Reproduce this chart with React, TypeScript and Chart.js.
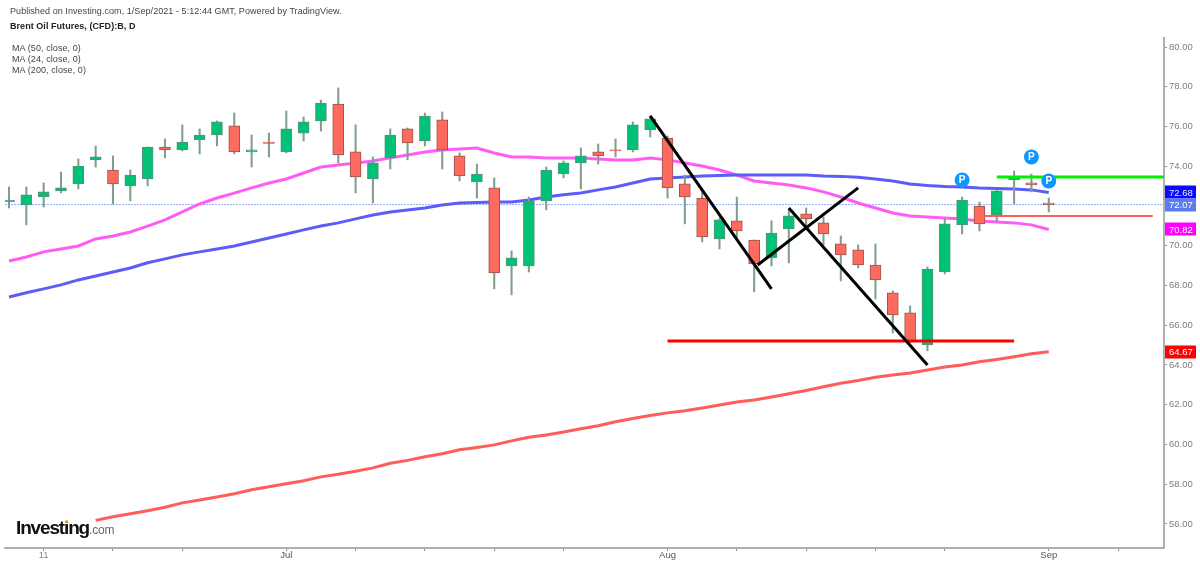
import React, { useEffect, useRef } from "react";
import { Chart, registerables } from "chart.js";

Chart.register(...registerables);

const headerLine = "Published on Investing.com, 1/Sep/2021 - 5:12:44 GMT, Powered by TradingView.";
const symbolLine = "Brent Oil Futures, (CFD):B, D";
const studyLines = ["MA (50, close, 0)", "MA (24, close, 0)", "MA (200, close, 0)"];

const opens = [72.2,72.05,72.45,72.76,73.11,74.32,73.81,73.01,73.36,74.97,74.82,75.32,75.57,76.03,74.72,75.22,74.72,75.67,76.28,77.13,74.72,73.36,74.42,75.88,75.27,76.33,74.52,73.21,72.91,68.98,68.98,72.25,73.61,74.17,74.72,74.82,74.82,75.83,75.42,73.11,72.4,70.34,71.25,70.29,69.39,70.85,71.6,71.15,70.09,69.79,69.03,67.63,66.62,65.01,68.68,71.05,72.0,71.55,73.31,73.16,72.15];
const highs = [72.96,72.96,73.16,73.71,74.37,75.02,74.52,73.81,74.97,75.37,76.08,75.88,76.28,76.68,75.57,75.67,76.78,76.48,77.33,77.94,76.08,74.47,75.88,75.93,76.68,76.73,74.67,74.11,73.41,69.74,72.45,73.96,74.27,74.92,75.12,75.37,76.23,76.53,75.52,73.56,72.71,71.4,72.45,70.29,71.25,71.8,71.9,71.45,70.49,70.04,70.09,67.73,66.97,68.93,71.35,72.45,72.2,72.81,73.76,73.61,72.4];
const lows = [71.9,71.05,71.95,72.66,72.86,73.96,72.1,72.25,73.01,74.42,74.77,74.62,75.02,74.62,73.96,74.47,74.67,75.27,75.77,74.17,72.66,72.15,73.86,74.32,75.02,73.86,73.26,72.4,67.83,67.53,68.68,71.8,73.41,72.86,74.11,74.47,74.72,75.47,72.4,71.1,70.19,69.84,70.39,67.68,68.98,69.14,70.8,70.04,68.23,68.88,67.32,65.61,65.11,64.71,68.58,70.59,70.74,71.2,72.1,72.71,71.7];
const closes = [72.3,72.56,72.71,72.91,74.01,74.47,73.11,73.56,74.97,74.82,75.22,75.57,76.23,74.72,74.82,75.15,75.88,76.23,77.18,74.57,73.46,74.17,75.57,75.17,76.53,74.82,73.51,73.61,68.63,69.39,72.25,73.81,74.17,74.52,74.52,74.77,76.08,76.38,72.91,72.45,70.44,71.3,70.74,69.08,70.64,71.5,71.35,70.59,69.54,69.03,68.28,66.52,65.21,68.83,71.1,72.3,71.1,72.76,73.46,73.06,72.07];

const ma50 = [67.42,67.63,67.83,68.03,68.28,68.48,68.68,68.88,69.14,69.34,69.54,69.69,69.84,69.99,70.19,70.39,70.59,70.8,70.99,71.15,71.35,71.55,71.7,71.8,71.9,72.05,72.15,72.18,72.2,72.2,72.3,72.45,72.56,72.65,72.81,72.96,73.16,73.36,73.41,73.46,73.51,73.54,73.56,73.56,73.56,73.56,73.56,73.51,73.49,73.44,73.36,73.26,73.11,73.03,72.98,72.96,72.91,72.88,72.86,72.81,72.68];
const ma24 = [69.23,69.43,69.69,69.84,69.99,70.34,70.49,70.69,70.99,71.3,71.7,72.1,72.4,72.65,72.91,73.16,73.36,73.66,73.96,74.06,74.16,74.26,74.42,74.57,74.72,74.82,74.87,74.92,74.67,74.47,74.47,74.42,74.42,74.42,74.37,74.32,74.32,74.42,74.32,74.16,74.01,73.81,73.56,73.26,73.16,73.06,72.91,72.71,72.45,72.15,71.9,71.65,71.5,71.45,71.4,71.35,71.25,71.2,71.15,71.05,70.82];
const ma200 = [null,null,null,null,null,56.18,56.36,56.51,56.66,56.84,57.06,57.21,57.36,57.52,57.72,57.87,58.02,58.17,58.37,58.5,58.65,58.82,59.05,59.2,59.38,59.53,59.73,59.85,59.98,60.18,60.36,60.48,60.63,60.79,60.94,61.14,61.31,61.46,61.59,61.7,61.84,61.99,62.14,62.24,62.39,62.55,62.72,62.9,63.08,63.22,63.38,63.5,63.6,63.75,63.9,64.0,64.16,64.28,64.41,64.56,64.67];

const yTicks = [56,58,60,62,64,66,68,70,72,74,76,78,80];
const xTickPositions = [2,6,10,16,20,24,28,32,38,42,46,50,54,60,64];
const xTickLabels = ["11","","","Jul","","","","","Aug","","","","","Sep",""];

const lastPrice = 72.07;
const ma50Last = 72.68;
const ma24Last = 70.82;
const ma200Last = 64.67;

const trendDown1 = [{ x: 37, y: 76.53 }, { x: 44, y: 67.83 }];
const trendUp = [{ x: 43.2, y: 69.03 }, { x: 49, y: 72.91 }];
const trendDown2 = [{ x: 45, y: 71.9 }, { x: 53, y: 64.0 }];
const supportRed = [{ x: 38, y: 65.21 }, { x: 58, y: 65.21 }];
const resistGreen = [{ x: 57, y: 73.46 }, { x: 66.65, y: 73.46 }];
const thinRed = [{ x: 56.3, y: 71.5 }, { x: 66, y: 71.5 }];
const pivots = [{ x: 55, y: 73.31 }, { x: 59, y: 74.47 }, { x: 60, y: 73.26 }];

const GREEN = "#00c176";
const RED = "#ff6a5f";
const WICK = "#7f9e90";
const AXIS = "#b0b0b0";
const LABEL = "#7e7e7e";
const FONT = '"Liberation Sans", Arial, sans-serif';
const X_MIN = -0.231;
const X_MAX = 66.65;

const overlayPlugin = {
  id: "overlay",
  afterDraw(chart: any) {
    const { ctx, scales } = chart;
    const x = scales.x;
    const y = scales.y;
    ctx.save();
    ctx.textAlign = "center";
    ctx.textBaseline = "middle";
    ctx.fillStyle = "#ffffff";
    ctx.font = `bold 10px ${FONT}`;
    pivots.forEach((p) => {
      ctx.fillText("P", x.getPixelForValue(p.x), y.getPixelForValue(p.y) + 0.5);
    });
    const tags: [number, string, string][] = [
      [ma50Last, "#0a0aff", "#e8e8ff"],
      [lastPrice, "#5b7cf0", "#ffffff"],
      [ma24Last, "#ff00ff", "#ffffff"],
      [ma200Last, "#ff0000", "#ffffff"],
    ];
    ctx.font = `9.5px ${FONT}`;
    ctx.textAlign = "left";
    tags.forEach(([v, bg, fg]) => {
      const py = y.getPixelForValue(v);
      ctx.fillStyle = bg;
      ctx.fillRect(1165, Math.round(py) - 6.5, 31, 13);
      ctx.fillStyle = fg;
      ctx.fillText(v.toFixed(2), 1169, py + 0.5);
    });
    ctx.restore();
  },
};

const lineSet = (data: any[], color: string, width: number, order: number, dash: number[] = []) => ({
  type: "line",
  data,
  borderColor: color,
  borderWidth: width,
  borderDash: dash,
  pointRadius: 0,
  tension: 0,
  spanGaps: false,
  order,
  clip: false,
});

const absolute = (left: number, top: number): React.CSSProperties => ({
  position: "absolute",
  left,
  top,
  whiteSpace: "nowrap",
  fontFamily: FONT,
  lineHeight: 1,
});

export default function App() {
  const ref = useRef<HTMLCanvasElement>(null);
  useEffect(() => {
    const idx = closes.map((_, i) => i);
    const isUp = (i: number) => closes[i] >= opens[i];
    const chart = new Chart(ref.current as HTMLCanvasElement, {
      type: "bar",
      data: {
        datasets: [
          lineSet([{ x: X_MIN, y: lastPrice }, { x: X_MAX, y: lastPrice }], "#8fa8ff", 1, 9, [2, 1]),
          lineSet(idx.map((i) => ({ x: i, y: ma50[i] })), "#5c5cf7", 3, 8),
          lineSet(idx.map((i) => ({ x: i, y: ma24[i] })), "#ff5cf5", 3, 8),
          lineSet(idx.map((i) => ({ x: i, y: ma200[i] })), "#ff5c5c", 3, 8),
          {
            type: "bar",
            data: idx.map((i) => ({ x: i, y: [lows[i], highs[i]] })),
            backgroundColor: WICK,
            borderWidth: 0,
            barThickness: 1.4,
            grouped: false,
            order: 6,
          },
          {
            type: "bar",
            data: idx.map((i) => ({ x: i, y: [opens[i], closes[i]] })),
            backgroundColor: idx.map((i) => (isUp(i) ? GREEN : RED)),
            borderColor: idx.map((i) => (isUp(i) ? "#5c8f7a" : "#96564f")),
            borderWidth: 1,
            borderSkipped: false,
            barThickness: 11,
            grouped: false,
            order: 5,
          },
          lineSet(trendDown1, "#000000", 3, 4),
          lineSet(trendUp, "#000000", 3, 4),
          lineSet(trendDown2, "#000000", 3, 4),
          lineSet(supportRed, "#ff0000", 3, 4),
          lineSet(resistGreen, "#00f000", 3, 4),
          lineSet(thinRed, "#ff5c5c", 2, 4),
          {
            type: "line",
            data: pivots,
            showLine: false,
            pointRadius: 7.5,
            pointBorderWidth: 0,
            pointBackgroundColor: "#1097ff",
            order: 1,
          },
        ] as any,
      },
      options: {
        responsive: false,
        animation: false,
        events: [],
        devicePixelRatio: 1,
        layout: { autoPadding: false, padding: { left: 5, top: 38, right: 0, bottom: 0 } },
        plugins: { legend: { display: false }, tooltip: { enabled: false } },
        scales: {
          x: {
            type: "linear",
            offset: false,
            min: X_MIN,
            max: X_MAX,
            afterBuildTicks(axis: any) {
              axis.ticks = xTickPositions.map((value) => ({ value }));
            },
            afterFit(axis: any) {
              axis.height = 18;
              axis.paddingLeft = 0;
              axis.paddingRight = 0;
            },
            grid: { drawOnChartArea: false, drawTicks: true, tickLength: 3, tickColor: "#8f8f8f", offset: false },
            border: { color: AXIS, width: 2 },
            ticks: {
              autoSkip: false,
              maxRotation: 0,
              padding: -1,
              color: (c: any) => (c.index === 0 ? "#8a8a8a" : "#555555"),
              font: { family: FONT, size: 9.5 },
              callback: (_: any, i: number) => xTickLabels[i],
            },
          },
          y: {
            type: "linear",
            position: "right",
            min: 54.79,
            max: 80.453,
            afterBuildTicks(axis: any) {
              axis.ticks = yTicks.map((value) => ({ value }));
            },
            afterFit(axis: any) {
              axis.width = 36;
            },
            grid: { drawOnChartArea: false, drawTicks: true, tickLength: 3, tickColor: "#8f8f8f" },
            border: { color: AXIS, width: 2 },
            ticks: {
              padding: 2,
              color: LABEL,
              font: { family: FONT, size: 9.5 },
              callback: (v: any) => Number(v).toFixed(2),
            },
          },
        },
      } as any,
      plugins: [overlayPlugin],
    });
    return () => chart.destroy();
  }, []);

  return (
    <div style={{ position: "absolute", left: 0, top: 0, width: 1200, height: 566, overflow: "hidden", background: "#fff" }}>
      <canvas ref={ref} width={1200} height={566} style={{ position: "absolute", left: 0, top: 0, display: "block" }} />
      <div style={{ ...absolute(10, 7), fontSize: 9, color: "#444", letterSpacing: 0.06 }}>{headerLine}</div>
      <div style={{ ...absolute(10, 22), fontSize: 9, fontWeight: 700, color: "#222", letterSpacing: 0.05 }}>{symbolLine}</div>
      {studyLines.map((t, i) => (
        <div key={t} style={{ ...absolute(12, 44 + i * 11), fontSize: 9, color: "#444", letterSpacing: 0.08 }}>{t}</div>
      ))}
      <div style={{ ...absolute(16, 518), fontSize: 19, fontWeight: 700, color: "#111", letterSpacing: -1.15 }}>
        Investing<span style={{ fontSize: 12, fontWeight: 400, color: "#666", letterSpacing: -0.2 }}>.com</span>
      </div>
      <div style={{ position: "absolute", left: 65, top: 520, width: 3, height: 3, borderRadius: "50%", background: "#f5a623" }} />
    </div>
  );
}
